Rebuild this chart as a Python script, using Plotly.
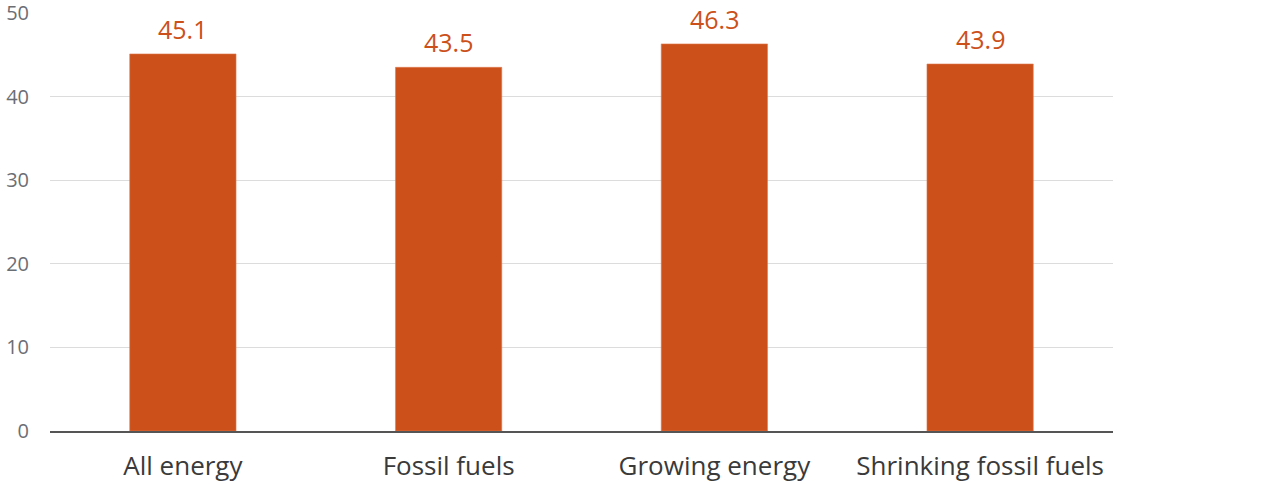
import plotly.graph_objects as go

categories = ["All energy", "Fossil fuels", "Growing energy", "Shrinking fossil fuels"]
values = [45.1, 43.5, 46.3, 43.9]
y_ticks = [0, 10, 20, 30, 40, 50]

BAR = "#cb501a"
FONT = "Open Sans, Lato, sans-serif"

fig = go.Figure(go.Bar(
    x=categories, y=values,
    marker=dict(color=BAR, line=dict(color="#e07a50", width=0.6)),
    width=0.4,
    hoverinfo="skip",
))

for c, v in zip(categories, values):
    fig.add_annotation(
        x=c, y=v, text=f"{v:.1f}", showarrow=False,
        yanchor="bottom", yshift=6,
        font=dict(family=FONT, size=25, color=BAR),
    )

fig.update_layout(
    width=1280, height=484,
    margin=dict(l=50, r=167, t=13, b=53),
    paper_bgcolor="white", plot_bgcolor="white",
    showlegend=False,
    font=dict(family=FONT),
)
fig.update_yaxes(
    range=[0, 50], tickvals=y_ticks,
    showgrid=True, gridcolor="#dcdcdc", gridwidth=1,
    zeroline=False, automargin=False,
    tickfont=dict(size=20, color="#6b6e73"),
    ticklabelstandoff=20,
    ticklabeloverflow="allow",
)
fig.update_xaxes(
    showline=True, linecolor="#555555", linewidth=1.5,
    automargin=False,
    tickfont=dict(size=26, color="#3a3a3a"),
    ticklabelstandoff=11,
)

fig.write_html("out.html")
